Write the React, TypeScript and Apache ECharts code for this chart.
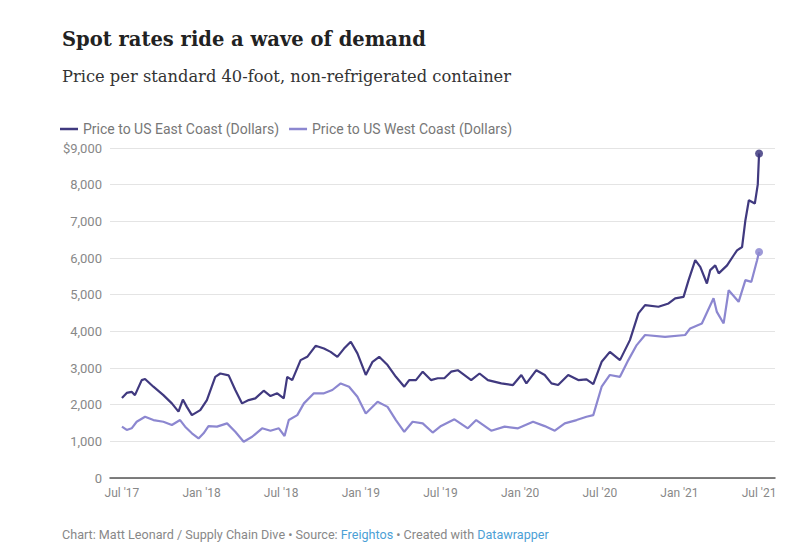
import React, { useEffect, useRef } from "react";
import * as echarts from "echarts";

// x values are months since July 2017
const xTickValues = [0, 6, 12, 18, 24, 30, 36, 42, 48];
const xTickLabels = ["Jul '17", "Jan '18", "Jul '18", "Jan '19", "Jul '19", "Jan '20", "Jul '20", "Jan '21", "Jul '21"];
const yTickValues = [0, 1000, 2000, 3000, 4000, 5000, 6000, 7000, 8000, 9000];
const yTickLabels = ["0", "1,000", "2,000", "3,000", "4,000", "5,000", "6,000", "7,000", "8,000", "$9,000"];

const eastMonths = [0, 0.36, 0.73, 0.98, 1.49, 1.74, 2.37, 3.12, 3.76, 4.26, 4.59, 4.89, 5.27, 5.9, 6.4, 7.03, 7.41, 8.04, 8.54, 9.05, 9.55, 10.05, 10.68, 11.19, 11.7, 12.19, 12.45, 12.83, 13.46, 13.96, 14.59, 15.22, 15.72, 16.23, 16.73, 17.24, 17.74, 18.37, 18.88, 19.38, 20.01, 20.64, 21.27, 21.64, 22.15, 22.66, 23.28, 23.79, 24.29, 24.8, 25.3, 26.31, 26.94, 27.57, 28.58, 29.46, 30.09, 30.47, 31.22, 31.85, 32.36, 32.86, 33.62, 34.38, 35.0, 35.51, 36.14, 36.76, 37.52, 38.27, 38.91, 39.41, 40.42, 41.18, 41.68, 42.31, 42.69, 43.19, 43.57, 44.07, 44.32, 44.7, 44.96, 45.59, 46.09, 46.34, 46.72, 46.97, 47.23, 47.68, 47.9, 48.0];
const eastValues = [2180, 2320, 2350, 2260, 2670, 2700, 2490, 2260, 2035, 1810, 2140, 1940, 1715, 1850, 2125, 2760, 2850, 2800, 2400, 2035, 2125, 2170, 2380, 2235, 2310, 2170, 2760, 2670, 3215, 3305, 3605, 3530, 3440, 3305, 3530, 3715, 3400, 2810, 3170, 3305, 3080, 2760, 2490, 2670, 2670, 2900, 2670, 2720, 2720, 2900, 2940, 2670, 2850, 2670, 2580, 2535, 2810, 2580, 2940, 2810, 2580, 2535, 2810, 2670, 2690, 2560, 3170, 3440, 3215, 3760, 4490, 4715, 4670, 4760, 4900, 4940, 5395, 5940, 5760, 5305, 5670, 5800, 5580, 5800, 6075, 6210, 6300, 7030, 7575, 7485, 8000, 8850];

const westMonths = [0, 0.36, 0.73, 1.11, 1.74, 2.37, 3.12, 3.76, 4.38, 4.76, 5.27, 5.77, 6.15, 6.52, 7.16, 7.92, 8.54, 9.17, 9.81, 10.56, 11.19, 11.82, 12.25, 12.57, 13.21, 13.71, 14.46, 15.22, 15.85, 16.48, 17.11, 17.74, 18.37, 19.26, 20.01, 20.64, 21.27, 21.9, 22.66, 23.41, 24.04, 25.05, 26.06, 26.69, 27.82, 28.83, 29.84, 30.97, 31.85, 32.61, 33.36, 34.25, 35.0, 35.51, 36.14, 36.76, 37.52, 38.15, 38.78, 39.41, 40.92, 42.43, 42.81, 43.69, 44.57, 44.82, 45.33, 45.71, 46.46, 46.97, 47.42, 47.85, 48.0];
const westValues = [1400, 1310, 1355, 1535, 1670, 1580, 1535, 1445, 1580, 1400, 1220, 1080, 1220, 1415, 1400, 1490, 1260, 990, 1125, 1355, 1290, 1355, 1145, 1580, 1715, 2035, 2310, 2310, 2400, 2580, 2490, 2215, 1760, 2080, 1940, 1580, 1260, 1535, 1490, 1240, 1420, 1600, 1355, 1580, 1290, 1400, 1355, 1535, 1415, 1290, 1490, 1580, 1670, 1715, 2490, 2810, 2760, 3215, 3625, 3900, 3850, 3900, 4080, 4215, 4900, 4530, 4215, 5120, 4805, 5395, 5350, 5940, 6165];

const EAST = "#40397f";
const WEST = "#8c87d0";

export default function App() {
  const ref = useRef<HTMLDivElement>(null);
  useEffect(() => {
    if (!ref.current) return;
    const chart = echarts.init(ref.current, null, { renderer: "svg" });
    const east = eastMonths.map((m, i) => [m, eastValues[i]]);
    const west = westMonths.map((m, i) => [m, westValues[i]]);
    chart.setOption({
      animation: false,
      backgroundColor: "#ffffff",
      grid: { left: 110, right: 30, top: 148, bottom: 72 },
      legend: {
        left: 55,
        top: 117,
        itemGap: 10,
        itemWidth: 18,
        itemHeight: 2.5,
        icon: "rect",
        textStyle: { fontFamily: "Roboto", fontSize: 14, color: "#777" },
        data: ["Price to US East Coast (Dollars)", "Price to US West Coast (Dollars)"],
      },
      xAxis: {
        type: "value",
        min: -0.9,
        max: 49.2,
        axisLine: { show: true, lineStyle: { color: "#555", width: 1.5 } },
        axisTick: { show: false },
        splitLine: { show: false },
        axisLabel: {
          customValues: xTickValues,
          formatter: (v: number) => xTickLabels[xTickValues.indexOf(Math.round(v))] ?? "",
          fontFamily: "Roboto",
          fontSize: 12,
          color: "#888",
          margin: 9,
        },
      },
      yAxis: {
        type: "value",
        min: 0,
        max: 9000,
        interval: 1000,
        axisLine: { show: false },
        axisTick: { show: false },
        splitLine: { show: true, lineStyle: { color: "#e4e4e4", width: 1 } },
        axisLabel: {
          formatter: (v: number) => yTickLabels[yTickValues.indexOf(v)] ?? "",
          fontFamily: "Roboto",
          fontSize: 13,
          color: "#888",
          margin: 8,
        },
      },
      series: [
        {
          name: "Price to US East Coast (Dollars)",
          type: "line",
          data: east,
          showSymbol: false,
          symbol: "none",
          color: EAST,
          lineStyle: { width: 2.2, color: EAST },
          z: 3,
        },
        {
          name: "Price to US West Coast (Dollars)",
          type: "line",
          data: west,
          showSymbol: false,
          symbol: "none",
          color: WEST,
          lineStyle: { width: 2.2, color: WEST },
          z: 2,
        },
        {
          type: "scatter",
          data: [east[east.length - 1]],
          symbolSize: 8,
          itemStyle: { color: EAST, opacity: 0.85 },
          z: 4,
        },
        {
          type: "scatter",
          data: [west[west.length - 1]],
          symbolSize: 8,
          itemStyle: { color: WEST, opacity: 0.85 },
          z: 4,
        },
      ],
      graphic: [
        {
          type: "text",
          left: 62,
          top: 29,
          style: {
            text: "Spot rates ride a wave of demand",
            font: "bold 19.5px 'DejaVu Serif'",
            fill: "#222",
          },
        },
        {
          type: "text",
          left: 62,
          top: 68,
          style: {
            text: "Price per standard 40-foot, non-refrigerated container",
            font: "16.3px 'DejaVu Serif'",
            fill: "#333",
          },
        },
        {
          type: "text",
          left: 62,
          top: 528,
          style: {
            text: "{g|Chart: Matt Leonard / Supply Chain Dive • Source: }{b|Freightos}{g| • Created with }{b|Datawrapper}",
            rich: {
              g: { fontFamily: "Roboto", fontSize: 12.6, fill: "#888" },
              b: { fontFamily: "Roboto", fontSize: 12.6, fill: "#4c9fd6" },
            },
          },
        },
      ],
    });
    return () => chart.dispose();
  }, []);
  return (
    <div
      ref={ref}
      style={{ position: "absolute", left: 0, top: 0, width: 805, height: 550, background: "#fff" }}
    />
  );
}
